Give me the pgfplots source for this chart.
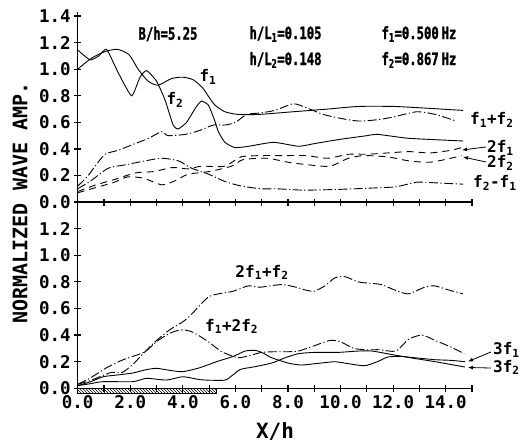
\documentclass[border=0pt]{standalone}
\usepackage{fontspec}
\setmainfont{DejaVu Sans Mono}
\newfontfamily\hdrfont{DejaVu Sans Mono Bold}[FakeStretch=0.72, FakeBold=1.5]
\usepackage{pgfplots}
\pgfplotsset{compat=1.18}
\usetikzlibrary{patterns,arrows.meta}
\newcommand{\sub}[1]{\textsubscript{#1}}
\newcommand{\lab}{\fontsize{16}{16}\selectfont\bfseries}
\newcommand{\tlab}{\fontsize{17.5}{17.5}\selectfont\bfseries}
\newcommand{\hdr}{\fontsize{17}{17}\selectfont\hdrfont}

\pgfplotsset{
 panel/.style={
  scale only axis, width=394.3pt, xmin=0, xmax=15,
  axis x line=bottom, axis y line=left,
  axis line style={-, line width=1.4pt},
  tick align=center, major tick length=7pt,
  tick style={line width=1.2pt, black},
  xtick={0,...,15},
  ticklabel style={font=\tlab},
  /pgf/number format/assume math mode=true,
  yticklabel style={/pgf/number format/.cd, fixed, fixed zerofill, precision=1},
  clip=false,
  cycle list={{black,solid}},
  every axis plot/.append style={black, line width=0.9pt, smooth, tension=0.4, mark=none},
 },
 dd/.style={dash pattern=on 9pt off 2.5pt on 1.2pt off 2.5pt},
 ds/.style={dash pattern=on 7pt off 5pt},
}

\begin{document}
\begin{tikzpicture}[x=1pt,y=1pt]
\path[use as bounding box] (0,0) rectangle (520,447);

% ---------- bottom panel ----------
\begin{axis}[panel, at={(77.7pt,58.7pt)}, anchor=south west, height=186.2pt,
  ymin=0, ymax=1.4, ytick={0,0.2,0.4,0.6,0.8,1.0,1.2},
  xticklabels={0.0,,2.0,,4.0,,6.0,,8.0,,10.0,,12.0,,14.0,}]
% 2f1+f2
\addplot[dd] coordinates {(0,0.03) (0.5,0.06) (1.0,0.10) (1.3,0.12) (1.7,0.12) (2.1,0.18) (2.56,0.275) (3.0,0.36) (3.5,0.44) (4.0,0.50) (4.3,0.55) (4.72,0.64) (5.0,0.69) (5.35,0.71) (5.92,0.73) (6.48,0.77) (6.93,0.76) (7.76,0.78) (8.3,0.76) (8.64,0.74) (9.0,0.73) (9.4,0.77) (9.78,0.83) (10.16,0.84) (10.67,0.80) (11.1,0.79) (11.55,0.78) (12.05,0.74) (12.57,0.71) (13.2,0.76) (13.58,0.77) (14.1,0.74) (14.66,0.71)};
% f1+2f2
\addplot[dd] coordinates {(0,0.03) (0.5,0.08) (1.1,0.155) (1.67,0.21) (2.1,0.24) (2.56,0.275) (3.06,0.36) (3.57,0.42) (4.0,0.44) (4.4,0.42) (4.97,0.35) (5.48,0.275) (6.1,0.23) (6.6,0.25) (7.0,0.27) (7.5,0.275) (8.0,0.275) (8.4,0.28) (9.0,0.32) (9.6,0.36) (10.0,0.35) (10.5,0.30) (11.0,0.29) (11.5,0.29) (12.1,0.28) (12.6,0.37) (13.1,0.40) (13.6,0.36) (14.2,0.31) (14.7,0.26)};
% 3f1
\addplot[solid] coordinates {(0,0.02) (0.5,0.05) (0.97,0.087) (1.5,0.10) (2.1,0.115) (2.6,0.14) (3.0,0.15) (3.5,0.135) (4.0,0.125) (4.65,0.155) (5.28,0.20) (5.92,0.24) (6.37,0.28) (6.75,0.285) (7.0,0.27) (7.38,0.23) (8.0,0.19) (8.5,0.175) (9.02,0.185) (9.5,0.195) (9.8,0.20) (10.3,0.185) (10.92,0.17) (11.4,0.20) (11.8,0.235) (12.3,0.24) (12.8,0.23) (13.6,0.215) (14.2,0.21) (14.73,0.20)};
% 3f2
\addplot[solid] coordinates {(0,0.02) (0.5,0.035) (0.97,0.05) (2.1,0.05) (2.62,0.075) (3.38,0.062) (4.0,0.087) (4.65,0.065) (5.2,0.06) (5.66,0.065) (6.17,0.14) (6.68,0.16) (7.38,0.19) (7.9,0.23) (8.39,0.26) (9.0,0.27) (9.9,0.27) (10.67,0.28) (11.2,0.28) (12.05,0.25) (12.8,0.225) (13.6,0.2) (14.73,0.16)};
% hatched bar
\addplot[sharp plot, draw=black, line width=0.8pt, pattern=north west lines] coordinates {(0,0) (5.28,0) (5.28,-0.035) (0,-0.035)} -- cycle;
\end{axis}

% ---------- top panel ----------
\begin{axis}[panel, at={(77.7pt,244.9pt)}, anchor=south west, height=190pt,
  ymin=0, ymax=1.43, ytick={0,0.2,0.4,0.6,0.8,1.0,1.2,1.4},
  xticklabels={}]
% f1
\addplot[solid] coordinates {(0,1.0) (0.5,1.08) (1.0,1.13) (1.5,1.15) (1.95,1.11) (2.3,1.0) (2.68,0.91) (3.06,0.88) (3.57,0.93) (4.0,0.94) (4.4,0.92) (4.75,0.86) (5.03,0.78) (5.22,0.73) (5.6,0.68) (6.1,0.66) (6.9,0.66) (8.2,0.68) (9.5,0.70) (10.7,0.72) (12.0,0.72) (13.0,0.71) (14.66,0.69)};
% f2
\addplot[solid, tension=0.3] coordinates {(0,1.145) (0.47,1.07) (0.8,1.1) (1.1,1.15) (1.55,0.97) (2.05,0.80) (2.37,0.94) (2.62,0.99) (3.0,0.91) (3.32,0.77) (3.63,0.58) (3.82,0.55) (4.14,0.60) (4.52,0.72) (4.71,0.76) (4.97,0.73) (5.2,0.62) (5.35,0.53) (5.6,0.45) (5.98,0.41) (6.5,0.42) (7.45,0.45) (8.4,0.42) (9.0,0.44) (9.9,0.47) (11.0,0.50) (11.4,0.51) (12.6,0.48) (14.66,0.46)};
% f1+f2
\addplot[dd] coordinates {(0,0.12) (0.4,0.2) (0.66,0.27) (1.04,0.36) (1.54,0.39) (2.18,0.44) (2.7,0.48) (3.19,0.53) (3.44,0.50) (4.1,0.51) (4.65,0.54) (5.16,0.58) (5.6,0.58) (6.0,0.60) (6.43,0.66) (6.9,0.67) (7.5,0.69) (8.2,0.74) (8.7,0.71) (9.34,0.66) (10.0,0.63) (10.7,0.61) (11.4,0.62) (12.0,0.64) (12.9,0.68) (13.6,0.66) (14.4,0.61)};
% 2f1
\addplot[ds] coordinates {(0,0.08) (0.7,0.13) (1.4,0.17) (2.2,0.22) (2.9,0.23) (3.6,0.26) (4.2,0.25) (4.7,0.27) (5.6,0.27) (6.2,0.34) (7.0,0.35) (7.9,0.35) (8.7,0.35) (9.5,0.33) (10.3,0.36) (11.0,0.36) (11.8,0.37) (12.6,0.38) (13.4,0.37) (14.2,0.39) (14.6,0.41)};
% 2f2
\addplot[ds] coordinates {(0,0.07) (0.7,0.11) (1.4,0.15) (1.9,0.19) (2.5,0.18) (3.2,0.13) (3.7,0.16) (4.2,0.21) (5.0,0.23) (5.85,0.27) (6.3,0.32) (7.2,0.33) (8.0,0.30) (8.8,0.28) (9.6,0.27) (10.3,0.33) (10.9,0.35) (11.8,0.34) (12.6,0.31) (13.4,0.30) (14.2,0.33) (14.6,0.35)};
% f2-f1
\addplot[dd] coordinates {(0,0.10) (0.5,0.16) (1.16,0.255) (1.8,0.28) (2.43,0.305) (3.19,0.33) (3.84,0.31) (4.33,0.255) (4.98,0.21) (5.6,0.155) (6.24,0.12) (7.0,0.10) (7.6,0.10) (8.58,0.09) (9.84,0.095) (11.1,0.105) (12.1,0.115) (12.9,0.15) (13.6,0.145) (14.66,0.135)};
\end{axis}

% ---------- texts ----------
\node[rotate=90, font=\fontsize{20}{20}\selectfont\bfseries] at (20,244) {NORMALIZED WAVE AMP.};
\node[font=\fontsize{21}{21}\selectfont\bfseries] at (275,16) {X/h};

\node[font=\hdr] at (168,413) {B/h=5.25};
\node[font=\hdr, anchor=west] at (246,413) {h/L\sub{1}=0.105};
\node[font=\hdr, anchor=west] at (246,387) {h/L\sub{2}=0.148};
\node[font=\hdr, anchor=west] at (378,413) {f\sub{1}=0.500\,Hz};
\node[font=\hdr, anchor=west] at (378,387) {f\sub{2}=0.867\,Hz};

\node[font=\lab] at (208,370) {f\sub{1}};
\node[font=\lab] at (175,347) {f\sub{2}};
\node[font=\lab, anchor=west, inner sep=0pt] at (470,327) {f\sub{1}+f\sub{2}};
\node[font=\lab, anchor=west, inner sep=0pt] at (487,299) {2f\sub{1}};
\node[font=\lab, anchor=west, inner sep=0pt] at (487,284) {2f\sub{2}};
\node[font=\lab, anchor=west, inner sep=0pt] at (473,264) {f\sub{2}-f\sub{1}};
\draw[line width=0.8pt, -{Latex[length=5pt,width=4pt]}] (486,300) -- (462,297);
\draw[line width=0.8pt, -{Latex[length=5pt,width=4pt]}] (486,285) -- (463,290);

\node[font=\lab] at (262,174.5) {2f\sub{1}+f\sub{2}};
\node[font=\lab, anchor=west, inner sep=0pt] at (205,120.5) {f\sub{1}+2f\sub{2}};
\node[font=\lab, anchor=west, inner sep=0pt] at (493,97) {3f\sub{1}};
\node[font=\lab, anchor=west, inner sep=0pt] at (493,79.5) {3f\sub{2}};
\draw[line width=0.8pt, -{Latex[length=5pt,width=4pt]}] (491,95) -- (468,85.5);
\draw[line width=0.8pt, -{Latex[length=5pt,width=4pt]}] (491,79) -- (468,79.5);
\end{tikzpicture}
\end{document}
